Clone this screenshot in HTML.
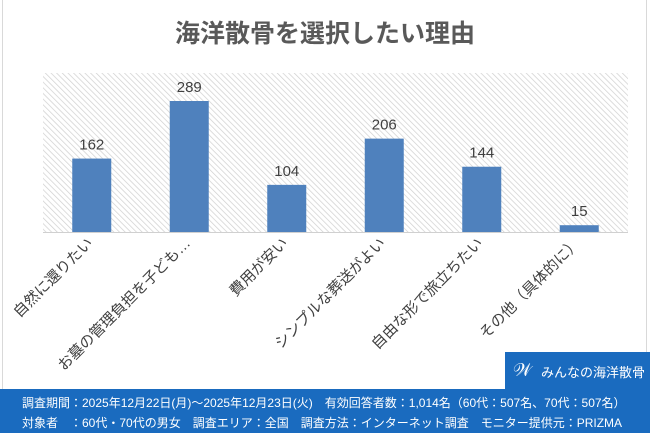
<!DOCTYPE html>
<html><head><meta charset="utf-8"><style>
body{margin:0;width:650px;height:433px;overflow:hidden;background:#fff;font-family:"Liberation Sans","Noto Sans CJK JP",sans-serif;position:relative}
#card{position:absolute;left:2px;top:0;width:645px;height:389px;border-left:1px solid #d9d9d9;border-right:1px solid #d9d9d9;box-sizing:border-box}
#footer{position:absolute;left:0;top:389px;width:650px;height:44px;background:#1a6bbf;color:#fff;font-size:12px}
#logo{position:absolute;left:505px;top:352px;width:145px;height:37px;background:#1a6bbf;color:#fff;font-size:13px}
</style></head><body>
<div id="card"></div>
<svg width="650" height="433" style="position:absolute;left:0;top:0">
<defs><pattern id="hatch" width="4" height="4" patternUnits="userSpaceOnUse" patternTransform="rotate(-45)"><rect width="4" height="4" fill="#fff"/><line x1="0" y1="0" x2="0" y2="4" stroke="#cfcfcf" stroke-width="1.4"/></pattern></defs>
<text x="325" y="42" text-anchor="middle" font-size="25" font-weight="bold" fill="#595959" font-family="Liberation Sans, Noto Sans CJK JP, sans-serif">海洋散骨を選択したい理由</text>
<rect x="43" y="73" width="585" height="159" fill="url(#hatch)"/>
<g id="bars"></g>
<line x1="43" y1="232.5" x2="628" y2="232.5" stroke="#d0d0d0"/>
</svg>
<div id="logo"><span style="position:absolute;left:8px;top:8px;font-size:18px">𝒲</span><span style="position:absolute;left:36px;top:10px">みんなの海洋散骨</span></div>
<div id="footer">
<div style="position:absolute;left:22px;top:5px;white-space:nowrap">調査期間：2025年12月22日(月)～2025年12月23日(火)　有効回答者数：1,014名（60代：507名、70代：507名）</div>
<div style="position:absolute;left:22px;top:25px;white-space:nowrap">対象者　：60代・70代の男女　調査エリア：全国　調査方法：インターネット調査　モニター提供元：PRIZMA</div>
</div>
<script>
const categories=["自然に還りたい","お墓の管理負担を子ども…","費用が安い","シンプルな葬送がよい","自由な形で旅立ちたい","その他（具体的に）"];
const values=[162,289,104,206,144,15];
const g=document.getElementById('bars');const NS="http://www.w3.org/2000/svg";
const x0=43,x1=628,base=232,scale=131/289;
const bw=(x1-x0)/categories.length;
const xc=i=>x0+bw*(i+0.5);const y=v=>base-v*scale;
categories.forEach((c,i)=>{
const r=document.createElementNS(NS,'rect');
r.setAttribute('x',xc(i)-19.5);r.setAttribute('y',y(values[i]));r.setAttribute('width',39);r.setAttribute('height',base-y(values[i]));r.setAttribute('fill','#4f81bd');


g.appendChild(r);
const t=document.createElementNS(NS,'text');
t.setAttribute('x',xc(i));t.setAttribute('y',y(values[i])-9);t.setAttribute('text-anchor','middle');t.setAttribute('font-size','15');t.setAttribute('fill','#404040');t.textContent=values[i];


g.appendChild(t);
const l=document.createElementNS(NS,'text');
l.setAttribute('transform','translate('+(xc(i)+2)+',244) rotate(-45)');l.setAttribute('text-anchor','end');l.setAttribute('font-size','15');l.setAttribute('fill','#404040');l.textContent=c;


g.appendChild(l);
});
</script>
</body></html>
